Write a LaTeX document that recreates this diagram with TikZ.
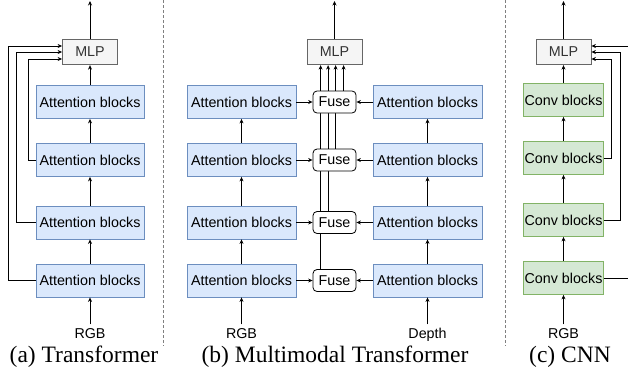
\documentclass[tikz,border=0pt]{standalone}
\usepackage{fontspec}
\setmainfont{Liberation Serif}
\setsansfont{Liberation Sans}
\usetikzlibrary{arrows.meta,backgrounds}
\definecolor{attfill}{HTML}{DAE8FC}
\definecolor{attdraw}{HTML}{6C8EBF}
\definecolor{convfill}{HTML}{D5E8D4}
\definecolor{convdraw}{HTML}{82B366}
\definecolor{mlpfill}{HTML}{F5F5F5}
\definecolor{mlpdraw}{HTML}{666666}
\definecolor{mlptext}{HTML}{333333}
\begin{document}
\begin{tikzpicture}[x=1pt,y=-1pt,
  lbl/.style={font=\sffamily\fontsize{14.3}{16}\selectfont},
  att/.style={lbl,draw=attdraw,fill=attfill,line width=0.8pt,minimum width=108pt,minimum height=33pt,inner sep=0pt},
  conv/.style={lbl,draw=convdraw,fill=convfill,line width=0.8pt,minimum width=80pt,minimum height=33pt,inner sep=0pt},
  mlp/.style={lbl,draw=mlpdraw,fill=mlpfill,text=mlptext,line width=0.8pt,minimum width=55pt,minimum height=25.5pt,inner sep=0pt},
  fuse/.style={lbl,draw=black,fill=white,rounded corners=4pt,line width=0.8pt,minimum width=43pt,minimum height=22pt,inner sep=0pt},
  arr/.style={-{Stealth[length=4.5pt,width=4pt]},line width=0.8pt},
  captext/.style={font=\fontsize{23.5}{26}\selectfont,anchor=base},
  sep/.style={dash pattern=on 3pt off 2pt,draw=gray,line width=0.8pt}]
\useasboundingbox (0,0) rectangle (628,370);
\clip (0,0) rectangle (628,370);

% separators
\draw[sep] (163.5,0) -- (163.5,346);
\draw[sep] (505,0) -- (505,346);

% ---------- (a) Transformer ----------
\node[mlp] (amlp) at (90,52) {MLP};
\node[att] (a1) at (90,102) {Attention blocks};
\node[att] (a2) at (90,160) {Attention blocks};
\node[att] (a3) at (90,222.5) {Attention blocks};
\node[att] (a4) at (90,280.5) {Attention blocks};
\node[lbl,anchor=base] (argb) at (90,338) {RGB};
\coordinate (aout) at (90,1);
\draw[arr] (amlp.north) -- (aout);
\draw[arr] (a1) -- (amlp);
\draw[arr] (a2) -- (a1);
\draw[arr] (a3) -- (a2);
\draw[arr] (a4) -- (a3);
\draw[arr] (argb.north) -- (a4.south);
\draw[arr] (a2.west) -- (28,160) |- ([yshift=-7pt]amlp.west);
\draw[arr] (a3.west) -- (16,222.5) |- (amlp.west);
\draw[arr] (a4.west) -- (8,280.5) |- ([yshift=6pt]amlp.west);
\node[captext] (capa) at (84,362) {(a) Transformer};

% ---------- (b) Multimodal Transformer ----------
\node[mlp] (bmlp) at (334.5,52) {MLP};
\node[att,minimum width=109pt] (l1) at (241.5,102) {Attention blocks};
\node[att,minimum width=109pt] (l2) at (241.5,160) {Attention blocks};
\node[att,minimum width=109pt] (l3) at (241.5,222.5) {Attention blocks};
\node[att,minimum width=109pt] (l4) at (241.5,280.5) {Attention blocks};
\node[att,minimum width=109pt] (r1) at (427.5,102) {Attention blocks};
\node[att,minimum width=109pt] (r2) at (427.5,160) {Attention blocks};
\node[att,minimum width=109pt] (r3) at (427.5,222.5) {Attention blocks};
\node[att,minimum width=109pt] (r4) at (427.5,280.5) {Attention blocks};
\node[fuse] (f1) at (334.5,102) {Fuse};
\node[fuse] (f2) at (334.5,160) {Fuse};
\node[fuse] (f3) at (334.5,222.5) {Fuse};
\node[fuse] (f4) at (334.5,280.5) {Fuse};
\node[lbl,anchor=base] (brgb) at (241.5,338) {RGB};
\node[lbl,anchor=base] (bdep) at (427.5,338) {Depth};
\coordinate (bout) at (334.5,1);
\draw[arr] (bmlp.north) -- (bout);
\foreach \i in {1,2,3,4}{
  \draw[arr] (l\i) -- (f\i);
  \draw[arr] (r\i) -- (f\i);
}
\draw[arr] (l2) -- (l1);
\draw[arr] (l3) -- (l2);
\draw[arr] (l4) -- (l3);
\draw[arr] (r2) -- (r1);
\draw[arr] (r3) -- (r2);
\draw[arr] (r4) -- (r3);
\draw[arr] (brgb.north) -- (l4.south);
\draw[arr] (bdep.north |- brgb.north) -- (r4.south);
\coordinate (v4) at ([xshift=8pt]f4.north west);
\coordinate (v3) at ([xshift=15.5pt]f3.north west);
\coordinate (v2) at ([xshift=23pt]f2.north west);
\coordinate (v1) at ([xshift=31pt]f1.north west);
\begin{pgfonlayer}{background}
\draw[arr] (v4) -- (v4 |- bmlp.south);
\draw[arr] (v3) -- (v3 |- bmlp.south);
\draw[arr] (v2) -- (v2 |- bmlp.south);
\draw[arr] (v1) -- (v1 |- bmlp.south);
\end{pgfonlayer}
\node[captext] (capb) at (335,362) {(b) Multimodal Transformer};

% ---------- (c) CNN ----------
\node[mlp] (cmlp) at (563.5,52) {MLP};
\node[conv] (c1) at (563.5,100) {Conv blocks};
\node[conv] (c2) at (563.5,158) {Conv blocks};
\node[conv] (c3) at (563.5,220) {Conv blocks};
\node[conv] (c4) at (563.5,278) {Conv blocks};
\node[lbl,anchor=base] (crgb) at (563.5,338) {RGB};
\coordinate (cout) at (563.5,1);
\draw[arr] (cmlp.north) -- (cout);
\draw[arr] (c1) -- (cmlp);
\draw[arr] (c2) -- (c1);
\draw[arr] (c3) -- (c2);
\draw[arr] (c4) -- (c3);
\draw[arr] (crgb.north) -- (c4.south);
\draw[arr] (c2.east) -- (611,158) |- ([yshift=-7pt]cmlp.east);
\draw[arr] (c3.east) -- (620,220) |- (cmlp.east);
\draw[arr] (c4.east) -- (636,278) |- ([yshift=6pt]cmlp.east);
\node[captext] (capc) at (570,362) {(c) CNN};
\end{tikzpicture}
\end{document}
